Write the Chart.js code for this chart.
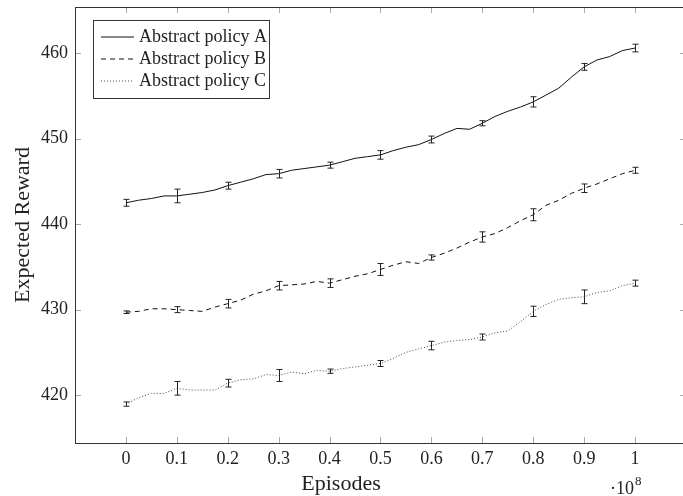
<!DOCTYPE html>
<html>
<head>
<meta charset="utf-8">
<script src="https://cdn.jsdelivr.net/npm/chart.js@4/dist/chart.umd.min.js"></script>
<style>
  html, body { margin: 0; padding: 0; background: #fff; overflow: hidden; }
  #wrap { width: 700px; height: 496px; position: relative; }
</style>
</head>
<body>
<div id="wrap"><canvas id="myChart"></canvas></div>
<script>
// episodes (x 10^8)
var xValues = [0, 0.025, 0.05, 0.075, 0.1, 0.125, 0.15, 0.175, 0.2, 0.225, 0.25, 0.275, 0.3, 0.325, 0.35, 0.375,
    0.4, 0.425, 0.45, 0.475, 0.5, 0.525, 0.55, 0.575, 0.6, 0.625, 0.65, 0.675, 0.7, 0.725, 0.75, 0.775,
    0.8, 0.825, 0.85, 0.875, 0.9, 0.925, 0.95, 0.975, 1.0];

var policyA = [442.5, 442.8, 443.0, 443.3, 443.3, 443.5, 443.7, 444.0, 444.5, 444.9, 445.3, 445.8, 445.9, 446.3, 446.5, 446.7,
    446.9, 447.3, 447.7, 447.9, 448.1, 448.6, 449.0, 449.3, 449.9, 450.6, 451.2, 451.1, 451.8, 452.6, 453.2, 453.7,
    454.3, 455.1, 455.9, 457.2, 458.4, 459.2, 459.6, 460.3, 460.6];

var policyB = [429.7, 429.8, 430.1, 430.1, 430.0, 429.9, 429.8, 430.3, 430.7, 431.1, 431.8, 432.2, 432.8, 432.9, 433.0, 433.3,
    433.1, 433.5, 433.9, 434.2, 434.7, 435.2, 435.6, 435.4, 436.1, 436.6, 437.2, 437.9, 438.5, 438.9, 439.6, 440.4,
    441.1, 442.2, 442.8, 443.6, 444.2, 444.7, 445.3, 445.9, 446.3];

var policyC = [418.95, 419.7, 420.2, 420.2, 420.8, 420.6, 420.6, 420.6, 421.4, 421.8, 421.9, 422.4, 422.3, 422.7, 422.5, 422.9,
    422.8, 423.1, 423.3, 423.5, 423.7, 424.3, 425.0, 425.4, 425.8, 426.2, 426.4, 426.5, 426.8, 427.3, 427.5, 428.6,
    429.8, 430.6, 431.2, 431.4, 431.5, 432.0, 432.2, 432.8, 433.1];

// error bars at every 0.1
var errX = [0, 0.1, 0.2, 0.3, 0.4, 0.5, 0.6, 0.7, 0.8, 0.9, 1.0];
var errA = [0.4, 0.8, 0.4, 0.5, 0.35, 0.5, 0.4, 0.3, 0.6, 0.4, 0.45];
var errB = [0.15, 0.35, 0.5, 0.5, 0.5, 0.7, 0.3, 0.6, 0.7, 0.5, 0.35];
var errC = [0.25, 0.8, 0.45, 0.7, 0.25, 0.35, 0.5, 0.35, 0.6, 0.8, 0.35];

var xTicks = [0, 0.1, 0.2, 0.3, 0.4, 0.5, 0.6, 0.7, 0.8, 0.9, 1];
var yTicks = [420, 430, 440, 450, 460];

function toPoints(ys) {
    return xValues.map(function(x, i) { return {x: x, y: ys[i]}; });
}
function valueAt(ys, x) {
    return ys[xValues.indexOf(x)];
}

Chart.defaults.font.family = "'Liberation Serif', 'Times New Roman', serif";
Chart.defaults.font.size = 18;
Chart.defaults.color = '#222';

var boxPlugin = {
    id: 'boxPlugin',
    afterDatasetsDraw: function(chart) {
        var ctx = chart.ctx;
        var xs = chart.scales.x, ys = chart.scales.y;
        var sets = [[policyA, errA], [policyB, errB], [policyC, errC]];
        ctx.save();
        ctx.strokeStyle = '#222';
        ctx.lineWidth = 1;
        ctx.setLineDash([]);
        sets.forEach(function(s) {
            errX.forEach(function(x, i) {
                var m = valueAt(s[0], x);
                var px = Math.round(xs.getPixelForValue(x)) + 0.5;
                var top = ys.getPixelForValue(m + s[1][i]);
                var bot = ys.getPixelForValue(m - s[1][i]);
                ctx.beginPath();
                ctx.moveTo(px, top); ctx.lineTo(px, bot);
                ctx.moveTo(px - 3, top); ctx.lineTo(px + 3, top);
                ctx.moveTo(px - 3, bot); ctx.lineTo(px + 3, bot);
                ctx.stroke();
            });
        });
        ctx.restore();
    },
    afterDraw: function(chart) {
        var ctx = chart.ctx;
        var a = chart.chartArea;
        var xs = chart.scales.x, ys = chart.scales.y;
        ctx.save();
        // inward ticks
        ctx.strokeStyle = '#aaa';
        ctx.lineWidth = 1;
        ctx.beginPath();
        xTicks.forEach(function(t) {
            var px = Math.round(xs.getPixelForValue(t)) + 0.5;
            ctx.moveTo(px, a.bottom); ctx.lineTo(px, a.bottom - 6);
            ctx.moveTo(px, a.top); ctx.lineTo(px, a.top + 6);
        });
        yTicks.forEach(function(t) {
            var py = Math.round(ys.getPixelForValue(t)) + 0.5;
            ctx.moveTo(a.left, py); ctx.lineTo(a.left + 6, py);
            ctx.moveTo(a.right, py); ctx.lineTo(a.right - 6, py);
        });
        ctx.stroke();
        // axis box
        ctx.strokeStyle = '#333';
        ctx.strokeRect(Math.round(a.left) + 0.5, Math.round(a.top) + 0.5,
            Math.round(a.right - a.left), Math.round(a.bottom - a.top));

        // legend
        var lx = a.left + 18, ly = a.top + 13;
        ctx.fillStyle = '#fff';
        ctx.fillRect(lx, ly, 176, 78);
        ctx.strokeStyle = '#333';
        ctx.strokeRect(lx + 0.5, ly + 0.5, 176, 78);
        ctx.font = "18px 'Liberation Serif', serif";
        ctx.textBaseline = 'middle';
        chart.data.datasets.forEach(function(ds, i) {
            var yy = ly + 17 + i * 22;
            ctx.strokeStyle = ds.borderColor;
            ctx.lineWidth = ds.borderWidth;
            ctx.setLineDash(ds.borderDash || []);
            ctx.beginPath();
            ctx.moveTo(lx + 8, yy); ctx.lineTo(lx + 41, yy);
            ctx.stroke();
            ctx.setLineDash([]);
            ctx.fillStyle = '#222';
            ctx.fillText(ds.label, lx + 46, yy);
        });

        // x axis label and scale multiplier
        ctx.fillStyle = '#222';
        ctx.textBaseline = 'alphabetic';
        ctx.textAlign = 'center';
        ctx.font = "22px 'Liberation Serif', serif";
        ctx.fillText('Episodes', 341, 490);
        ctx.textAlign = 'left';
        ctx.font = "18px 'Liberation Serif', serif";
        ctx.fillText('\u00b710', 610, 494);
        ctx.font = "13px 'Liberation Serif', serif";
        ctx.fillText('8', 635, 485);
        ctx.restore();
    }
};

new Chart("myChart", {
    type: "line",
    data: {
        datasets: [{
            label: 'Abstract policy A',
            data: toPoints(policyA),
            borderColor: '#111',
            borderWidth: 1,
            pointRadius: 0
        }, {
            label: 'Abstract policy B',
            data: toPoints(policyB),
            borderColor: '#111',
            borderWidth: 1,
            borderDash: [5, 4],
            pointRadius: 0
        }, {
            label: 'Abstract policy C',
            data: toPoints(policyC),
            borderColor: '#444',
            borderWidth: 1,
            borderDash: [1, 2],
            pointRadius: 0
        }]
    },
    options: {
        responsive: true,
        maintainAspectRatio: false,
        animation: false,
        layout: { padding: { top: 7, right: 14, left: 0, bottom: 0 } },
        plugins: {
            legend: { display: false },
            tooltip: { enabled: false }
        },
        scales: {
            x: {
                type: 'linear',
                min: -0.1,
                max: 1.1,
                grid: { display: false, drawTicks: false },
                border: { display: false },
                afterBuildTicks: function(scale) {
                    scale.ticks = xTicks.map(function(v) { return {value: v}; });
                },
                afterFit: function(scale) {
                    scale.height = 53;
                    scale.paddingLeft = 0;
                    scale.paddingRight = 0;
                },
                ticks: {
                    padding: 5,
                    maxRotation: 0,
                    callback: function(v) { return String(Math.round(v * 10) / 10); }
                },
                title: { display: false }
            },
            y: {
                min: 414.4,
                max: 465.4,
                grid: { display: false, drawTicks: false },
                border: { display: false },
                afterBuildTicks: function(scale) {
                    scale.ticks = yTicks.map(function(v) { return {value: v}; });
                },
                afterFit: function(scale) {
                    scale.width = 75;
                    scale.paddingTop = 0;
                    scale.paddingBottom = 0;
                },
                ticks: { padding: 7 },
                title: {
                    display: true,
                    text: 'Expected Reward',
                    font: { size: 22 },
                    padding: { top: 10, bottom: 0 }
                }
            }
        }
    },
    plugins: [boxPlugin]
});
</script>
</body>
</html>
